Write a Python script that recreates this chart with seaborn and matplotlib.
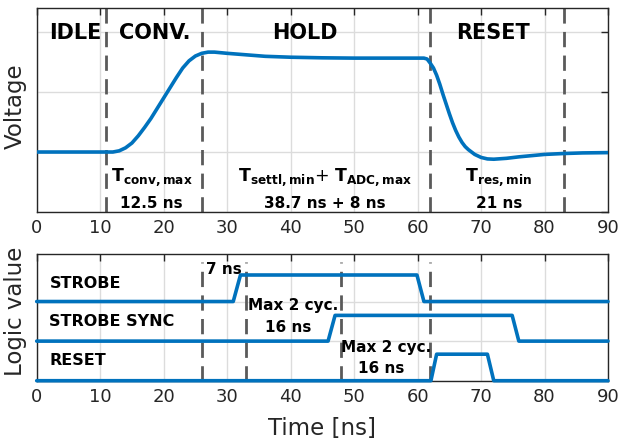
import matplotlib
matplotlib.use("Agg")
import matplotlib.pyplot as plt
import seaborn as sns
import pandas as pd

# ---------------- data ----------------
t_volt = [0, 10, 12, 13, 14, 15, 16, 17, 18, 19, 20, 21, 22, 23, 24, 25, 26, 27, 28, 30,
          33, 36, 40, 45, 50, 61, 61.5, 62, 62.5, 63, 63.5, 64, 64.5, 65, 65.5, 66, 66.5,
          67, 67.5, 68, 69, 70, 71, 72, 74, 76, 78, 80, 83, 86, 90]
v_volt = [0, 0, 0.0, 0.02, 0.07, 0.15, 0.27, 0.41, 0.56, 0.73, 0.90, 1.07, 1.24, 1.40,
          1.52, 1.60, 1.645, 1.665, 1.665, 1.645, 1.62, 1.595, 1.58, 1.57, 1.565, 1.565,
          1.55, 1.48, 1.40, 1.28, 1.13, 0.96, 0.80, 0.64, 0.49, 0.36, 0.25, 0.16, 0.09,
          0.04, -0.04, -0.09, -0.115, -0.12, -0.105, -0.08, -0.06, -0.04, -0.025, -0.015, -0.01]

strobe_t = [0, 30.96, 32.1, 59.9, 61.0, 90]
strobe_v = [2, 2, 2.67, 2.67, 2, 2]
sync_t = [0, 45.9, 47.0, 74.9, 75.95, 90]
sync_v = [1, 1, 1.65, 1.65, 1, 1]
reset_t = [0, 62.1, 63.0, 71.0, 72.0, 90]
reset_v = [0, 0, 0.67, 0.67, 0, 0]

phase_lines = [10.9, 26.0, 61.9, 83.1]
logic_lines = [26.0, 32.9, 48.0, 61.9]

phase_labels = ["IDLE", "CONV.", "HOLD", "RESET"]
signal_labels = ["STROBE", "STROBE SYNC", "RESET"]
xticks = [0, 10, 20, 30, 40, 50, 60, 70, 80, 90]

# ---------------- style ----------------
sns.set_style("white")
plt.rcParams['font.family'] = ['DejaVu Sans']
plt.rcParams['mathtext.fontset'] = 'dejavusans'

BLUE = "#0072BD"
GREY_TXT = "#262626"
DASH_C = "#5a5a5a"
TXT = "black"

fig = plt.figure(figsize=(6.21, 4.43), dpi=100)
ax1 = fig.add_axes([0.0591, 0.5214, 0.920, 0.4605])
ax2 = fig.add_axes([0.0591, 0.1406, 0.920, 0.2860])

def style_axes(ax):
    for s in ax.spines.values():
        s.set_color(GREY_TXT)
        s.set_linewidth(1.0)
    ax.tick_params(direction="in", length=5, width=1.0, color=GREY_TXT,
                   top=True, right=True, labelsize=13, labelcolor=GREY_TXT, pad=5)
    ax.grid(True, color="#dcdcdc", linewidth=1.0)
    ax.set_axisbelow(True)
    ax.set_xlim(0, 90)
    ax.set_xticks(xticks)

# ---------- top: voltage ----------
style_axes(ax1)
ax1.set_ylim(-1, 2.4)
ax1.set_yticks([-1, 0, 1, 2])
ax1.set_yticklabels([])
for x in phase_lines:
    ax1.axvline(x, color=DASH_C, lw=2.0, dashes=(5.5, 3.0), zorder=2)
sns.lineplot(x=t_volt, y=v_volt, ax=ax1, color=BLUE, linewidth=2.6, zorder=3)
ax1.set_ylabel("Voltage", fontsize=16.5, color=GREY_TXT)
ax1.yaxis.set_label_coords(-0.0175, 0.517)

kw_big = dict(fontsize=15, fontweight="bold", va="center", color=TXT)
ax1.text(2.0, 1.98, phase_labels[0], ha="left", **kw_big)
ax1.text(18.6, 1.98, phase_labels[1], ha="center", **kw_big)
ax1.text(42.3, 1.98, phase_labels[2], ha="center", **kw_big)
ax1.text(71.9, 1.98, phase_labels[3], ha="center", **kw_big)

kw_T = dict(fontsize=12.5, ha="center", va="center", color=TXT)
kw_ns = dict(fontsize=11, fontweight="bold", ha="center", va="center", color=TXT)
ax1.text(18.1, -0.42, r"$\mathbf{T_{conv,max}}$", **kw_T)
ax1.text(18.1, -0.86, "12.5 ns", **kw_ns)
ax1.text(45.4, -0.42, r"$\mathbf{T_{settl,min}}$+ $\mathbf{T_{ADC,max}}$", **kw_T)
ax1.text(45.4, -0.86, "38.7 ns + 8 ns", **kw_ns)
ax1.text(72.8, -0.42, r"$\mathbf{T_{res,min}}$", **kw_T)
ax1.text(72.8, -0.86, "21 ns", **kw_ns)

# ---------- bottom: logic ----------
style_axes(ax2)
ax2.set_ylim(0, 3.2)
ax2.set_yticks([0, 1, 2])
ax2.set_yticklabels([])
ax2.tick_params(axis="y", length=0)
for x in logic_lines:
    ax2.plot([x, x], [0, 3.0], color=DASH_C, lw=2.0, dashes=(5.5, 3.0), zorder=2)

df = pd.concat([
    pd.DataFrame({"t": strobe_t, "v": strobe_v, "sig": signal_labels[0]}),
    pd.DataFrame({"t": sync_t, "v": sync_v, "sig": signal_labels[1]}),
    pd.DataFrame({"t": reset_t, "v": reset_v, "sig": signal_labels[2]}),
])
sns.lineplot(data=df, x="t", y="v", hue="sig", palette=[BLUE, BLUE, BLUE],
             estimator=None, sort=False, legend=False, ax=ax2, linewidth=2.6,
             zorder=3, clip_on=False)

kw_sig = dict(fontsize=11.5, fontweight="bold", ha="left", va="center", color=TXT)
ax2.text(2.0, 2.45, signal_labels[0], **kw_sig)
ax2.text(2.0, 1.49, signal_labels[1], **kw_sig)
ax2.text(2.0, 0.50, signal_labels[2], **kw_sig)

ax2.text(29.5, 2.80, "7 ns", **kw_ns)
ax2.text(40.4, 1.90, "Max 2 cyc.", **kw_ns)
ax2.text(39.6, 1.35, "16 ns", **kw_ns)
ax2.text(55.0, 0.85, "Max 2 cyc.", **kw_ns)
ax2.text(54.2, 0.30, "16 ns", **kw_ns)

ax2.set_ylabel("Logic value", fontsize=16.5, color=GREY_TXT)
ax2.yaxis.set_label_coords(-0.0175, 0.55)
ax2.set_xlabel("Time [ns]", fontsize=16.5, color=GREY_TXT, labelpad=8)

fig.savefig("out.png", dpi=100)
